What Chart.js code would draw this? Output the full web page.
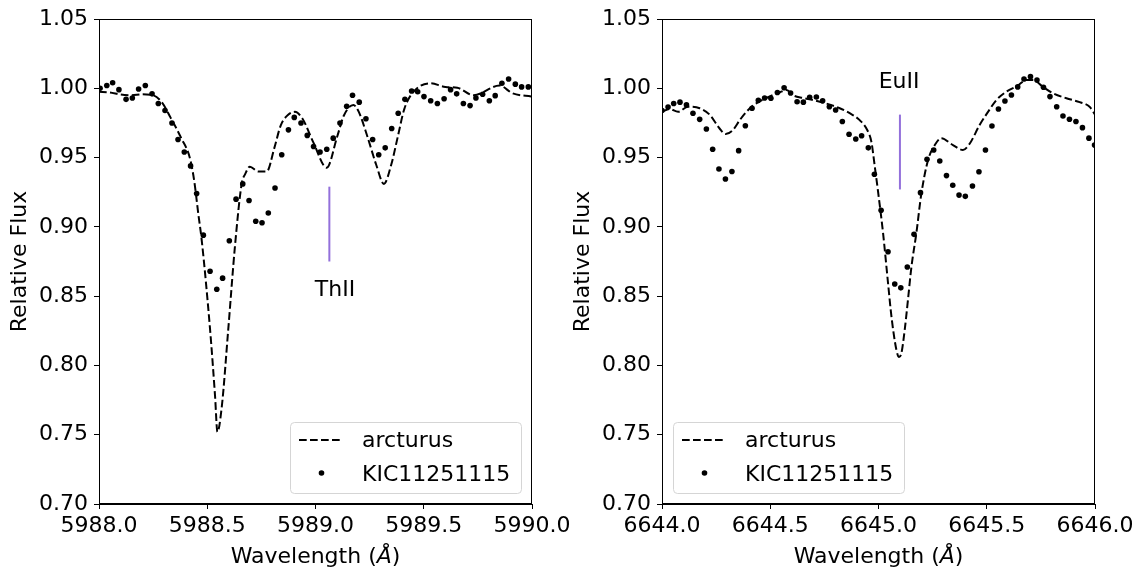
<!DOCTYPE html>
<html>
<head>
<meta charset="utf-8">
<script src="https://cdn.jsdelivr.net/npm/chart.js@4.4.1/dist/chart.umd.min.js"></script>
<style>
  body { margin: 0; background: #fff; }
  .panel { position: absolute; top: 0; width: 571px; height: 571px; }
</style>
</head>
<body>
<div class="panel" style="left:0"><canvas id="leftChart" width="571" height="571"></canvas></div>
<div class="panel" style="left:571px"><canvas id="rightChart" width="571" height="571"></canvas></div>
<script>
// tick labels
const fluxTicks = [0.70, 0.75, 0.80, 0.85, 0.90, 0.95, 1.00, 1.05];
const waveTicksL = [5988.0, 5988.5, 5989.0, 5989.5, 5990.0];
const waveTicksR = [6644.0, 6644.5, 6645.0, 6645.5, 6646.0];

// ThII region - arcturus model
const arcWaveL = [5988.00, 5988.05, 5988.10, 5988.15, 5988.20, 5988.25, 5988.29, 5988.33, 5988.38, 5988.42,
  5988.44, 5988.459, 5988.474, 5988.513, 5988.536, 5988.547, 5988.567, 5988.597, 5988.628, 5988.659,
  5988.675, 5988.697, 5988.735, 5988.775, 5988.81, 5988.84, 5988.875, 5988.905, 5988.94, 5988.99,
  5989.052, 5989.10, 5989.13, 5989.175, 5989.20, 5989.24, 5989.28, 5989.316, 5989.35, 5989.38,
  5989.41, 5989.45, 5989.53, 5989.60, 5989.655, 5989.73, 5989.85, 5989.91, 5990.00];
const arcFluxL = [0.9975, 0.997, 0.9955, 0.995, 0.9957, 0.995, 0.990, 0.979, 0.964, 0.9495,
  0.933, 0.909, 0.891, 0.826, 0.778, 0.752, 0.770, 0.826, 0.886, 0.931,
  0.938, 0.9434, 0.940, 0.940, 0.957, 0.9735, 0.981, 0.983, 0.978, 0.961,
  0.9427, 0.965, 0.980, 0.988, 0.983, 0.965, 0.945, 0.931, 0.945, 0.965,
  0.985, 0.997, 1.0036, 1.001, 1.0004, 0.995, 1.002, 0.9964, 0.994];

// ThII region - KIC11251115
const kicWaveL = [5988.005, 5988.036, 5988.063, 5988.092, 5988.125, 5988.154, 5988.183, 5988.214, 5988.245, 5988.274,
  5988.305, 5988.337, 5988.365, 5988.394, 5988.423, 5988.451, 5988.482, 5988.513, 5988.544, 5988.571,
  5988.602, 5988.633, 5988.664, 5988.693, 5988.724, 5988.753, 5988.782, 5988.813, 5988.844, 5988.875,
  5988.902, 5988.933, 5988.962, 5988.991, 5989.021, 5989.052, 5989.082, 5989.113, 5989.144, 5989.171,
  5989.202, 5989.233, 5989.264, 5989.292, 5989.322, 5989.352, 5989.382, 5989.413, 5989.444, 5989.472,
  5989.501, 5989.532, 5989.563, 5989.594, 5989.624, 5989.652, 5989.683, 5989.714, 5989.741, 5989.772,
  5989.803, 5989.830, 5989.861, 5989.892, 5989.923, 5989.952, 5989.983];
const kicFluxL = [1.000, 1.002, 1.004, 0.999, 0.992, 0.993, 0.9995, 1.002, 0.996, 0.989,
  0.984, 0.975, 0.963, 0.954, 0.944, 0.924, 0.894, 0.868, 0.855, 0.863,
  0.890, 0.920, 0.931, 0.919, 0.904, 0.903, 0.910, 0.928, 0.952, 0.970,
  0.979, 0.975, 0.966, 0.958, 0.954, 0.956, 0.964, 0.975, 0.987, 0.995,
  0.990, 0.978, 0.963, 0.952, 0.957, 0.971, 0.982, 0.992, 0.998, 0.9975,
  0.994, 0.991, 0.989, 0.9925, 0.999, 0.996, 0.989, 0.9875, 0.993, 0.9957,
  0.991, 0.9947, 1.0036, 1.0067, 1.003, 1.001, 1.001];

// EuII region - arcturus model
const arcWaveR = [6644.000, 6644.036, 6644.074, 6644.12, 6644.174, 6644.22, 6644.266, 6644.294, 6644.328, 6644.359,
  6644.39, 6644.42, 6644.482, 6644.544, 6644.575, 6644.605, 6644.651, 6644.697, 6644.759, 6644.821,
  6644.867, 6644.913, 6644.951, 6644.967, 6644.982, 6644.998, 6645.021, 6645.044, 6645.060, 6645.083,
  6645.095, 6645.106, 6645.121, 6645.136, 6645.152, 6645.175, 6645.198, 6645.229, 6645.26, 6645.29,
  6645.344, 6645.39, 6645.421, 6645.467, 6645.506, 6645.545, 6645.591, 6645.644, 6645.683, 6645.714,
  6645.76, 6645.806, 6645.868, 6645.929, 6645.975, 6646.0];
const arcFluxR = [0.983, 0.985, 0.983, 0.9867, 0.9856, 0.981, 0.971, 0.967, 0.970, 0.977,
  0.983, 0.9875, 0.993, 0.997, 0.9988, 0.995, 0.993, 0.9916, 0.989, 0.9856,
  0.982, 0.977, 0.969, 0.9615, 0.9446, 0.9254, 0.8956, 0.8595, 0.835, 0.811,
  0.806, 0.809, 0.8256, 0.8472, 0.871, 0.8956, 0.924, 0.9483, 0.959, 0.964,
  0.959, 0.9555, 0.960, 0.9735, 0.983, 0.9916, 0.9976, 1.002, 1.006, 1.006,
  1.001, 0.9964, 0.9928, 0.990, 0.9867, 0.981];

// EuII region - KIC11251115
const kicWaveR = [6644.000, 6644.028, 6644.054, 6644.083, 6644.113, 6644.143, 6644.174, 6644.205, 6644.234, 6644.263,
  6644.293, 6644.323, 6644.354, 6644.385, 6644.416, 6644.445, 6644.474, 6644.503, 6644.533, 6644.564,
  6644.594, 6644.624, 6644.653, 6644.682, 6644.713, 6644.742, 6644.773, 6644.802, 6644.833, 6644.864,
  6644.895, 6644.922, 6644.953, 6644.981, 6645.012, 6645.044, 6645.075, 6645.103, 6645.133, 6645.164,
  6645.194, 6645.224, 6645.255, 6645.283, 6645.314, 6645.343, 6645.372, 6645.401, 6645.434, 6645.464,
  6645.494, 6645.524, 6645.554, 6645.584, 6645.614, 6645.643, 6645.672, 6645.702, 6645.732, 6645.762,
  6645.792, 6645.823, 6645.852, 6645.882, 6645.912, 6645.942, 6645.972, 6645.998];
const kicFluxR = [0.984, 0.9865, 0.989, 0.990, 0.988, 0.982, 0.9776, 0.9706, 0.956, 0.9418,
  0.9345, 0.940, 0.955, 0.973, 0.9856, 0.9913, 0.993, 0.9928, 0.997, 1.0004,
  0.9966, 0.9903, 0.990, 0.9935, 0.9937, 0.991, 0.9867, 0.9843, 0.976, 0.9668,
  0.9634, 0.9658, 0.957, 0.938, 0.912, 0.882, 0.8588, 0.856, 0.871, 0.8946,
  0.9247, 0.9488, 0.9555, 0.9475, 0.937, 0.930, 0.9229, 0.922, 0.9295, 0.9398,
  0.9555, 0.9728, 0.985, 0.9908, 0.9952, 1.001, 1.0067, 1.0084, 1.006, 1.0007,
  0.994, 0.9867, 0.980, 0.9777, 0.976, 0.9716, 0.964, 0.959];

// line markers
const lineNameL = 'ThII';
const lineWaveL = 5989.064;
const lineFluxL = [0.875, 0.929];
const lineNameR = 'EuII';
const lineWaveR = 6645.099;
const lineFluxR = [0.927, 0.981];

const legendNames = ['arcturus', 'KIC11251115'];

Chart.defaults.font.family = '"DejaVu Sans"';
Chart.defaults.font.size = 22;
Chart.defaults.color = '#000';

const toPoints = (xs, ys) => xs.map((x, i) => ({ x: x, y: ys[i] }));

// box around plot, x title with italic Å, legend and line label
const framePlugin = {
    id: 'frame',
    afterDraw(chart, args, opts) {
        const { ctx, chartArea: a, scales } = chart;
        ctx.save();
        ctx.strokeStyle = '#000';
        ctx.lineWidth = 1;
        ctx.strokeRect(Math.round(a.left) + 0.5, Math.round(a.top) + 0.5,
            Math.round(a.right - a.left) - 1, Math.round(a.bottom - a.top) - 1);

        // x axis title: "Wavelength (" + italic Å + ")"
        const reg = '22px "DejaVu Sans"', ital = 'italic 22px "DejaVu Sans"';
        const parts = [['Wavelength (', reg], ['Å', ital], [')', reg]];
        let total = 0;
        parts.forEach(p => { ctx.font = p[1]; total += ctx.measureText(p[0]).width; });
        let tx = (a.left + a.right) / 2 - total / 2;
        ctx.fillStyle = '#000';
        ctx.textAlign = 'left';
        ctx.textBaseline = 'alphabetic';
        parts.forEach(p => {
            ctx.font = p[1];
            ctx.fillText(p[0], tx, 563);
            tx += ctx.measureText(p[0]).width;
        });

        // line label
        ctx.font = reg;
        ctx.textAlign = 'center';
        ctx.fillText(opts.label, scales.x.getPixelForValue(opts.labelAt[0]), scales.y.getPixelForValue(opts.labelAt[1]));

        // legend box
        const w = 231, h = 71;
        const bx = opts.legendLeft ? a.left + 11 : a.right - 11 - w;
        const by = a.bottom - 11 - h;
        ctx.beginPath();
        ctx.roundRect(bx + 0.5, by + 0.5, w, h, 4);
        ctx.fillStyle = 'rgba(255,255,255,0.8)';
        ctx.fill();
        ctx.strokeStyle = '#d5d5d5';
        ctx.stroke();

        ctx.strokeStyle = '#000';
        ctx.lineWidth = 2;
        ctx.setLineDash([7.7, 3.3]);
        ctx.beginPath();
        ctx.moveTo(bx + 9, by + 18);
        ctx.lineTo(bx + 53, by + 18);
        ctx.stroke();
        ctx.setLineDash([]);

        ctx.fillStyle = '#000';
        ctx.beginPath();
        ctx.arc(bx + 31.5, by + 51, 2.8, 0, Math.PI * 2);
        ctx.fill();

        ctx.textAlign = 'left';
        ctx.fillText(legendNames[0], bx + 72, by + 25);
        ctx.fillText(legendNames[1], bx + 72, by + 58.5);
        ctx.restore();
    }
};

function makeChart(id, cfg) {
    return new Chart(document.getElementById(id), {
        type: 'scatter',
        data: {
            datasets: [
                {
                    data: toPoints([cfg.lineWave, cfg.lineWave], cfg.lineFlux),
                    showLine: true,
                    borderColor: '#9370DB',
                    borderWidth: 2,
                    pointRadius: 0
                },
                {
                    label: legendNames[1],
                    data: toPoints(cfg.kicWave, cfg.kicFlux),
                    pointRadius: 2.8,
                    pointBackgroundColor: '#000',
                    pointBorderWidth: 0
                },
                {
                    label: legendNames[0],
                    data: toPoints(cfg.arcWave, cfg.arcFlux),
                    showLine: true,
                    borderColor: '#000',
                    borderWidth: 2,
                    borderDash: [7.7, 3.3],
                    cubicInterpolationMode: 'monotone',
                    pointRadius: 0
                }
            ]
        },
        options: {
            responsive: false,
            animation: false,
            events: [],
            layout: { padding: { top: 19, right: cfg.padRight, bottom: 0, left: 0 } },
            plugins: {
                legend: { display: false },
                tooltip: { enabled: false },
                frame: { label: cfg.lineName, labelAt: cfg.labelAt, legendLeft: cfg.legendLeft }
            },
            scales: {
                x: {
                    type: 'linear',
                    min: cfg.xTicks[0],
                    max: cfg.xTicks[cfg.xTicks.length - 1],
                    afterBuildTicks: s => { s.ticks = cfg.xTicks.map(v => ({ value: v })); },
                    afterFit: s => { s.height = 67; s.paddingLeft = 0; s.paddingRight = 0; },
                    grid: { drawOnChartArea: false, color: '#000', tickColor: '#000', tickLength: 5 },
                    border: { color: '#000', width: 1 },
                    ticks: {
                        padding: 4,
                        maxRotation: 0,
                        autoSkip: false,
                        callback: v => v.toFixed(1)
                    },
                    title: { display: false }
                },
                y: {
                    min: 0.70,
                    max: 1.05,
                    afterBuildTicks: s => { s.ticks = fluxTicks.map(v => ({ value: v })); },
                    afterFit: s => { s.width = cfg.yWidth; s.paddingTop = 0; s.paddingBottom = 0; },
                    grid: { drawOnChartArea: false, color: '#000', tickColor: '#000', tickLength: 5 },
                    border: { color: '#000', width: 1 },
                    ticks: {
                        padding: 6,
                        autoSkip: false,
                        callback: v => v.toFixed(2)
                    },
                    title: {
                        display: true,
                        text: 'Relative Flux',
                        font: { size: 22, lineHeight: 1 },
                        padding: { top: cfg.titlePad, bottom: 0 }
                    }
                }
            }
        },
        plugins: [framePlugin]
    });
}

makeChart('leftChart', {
    arcWave: arcWaveL, arcFlux: arcFluxL, kicWave: kicWaveL, kicFlux: kicFluxL,
    lineWave: lineWaveL, lineFlux: lineFluxL, lineName: lineNameL, labelAt: [5989.09, 0.850],
    xTicks: waveTicksL, yWidth: 99, padRight: 39, titlePad: 9, legendLeft: false
});

makeChart('rightChart', {
    arcWave: arcWaveR, arcFlux: arcFluxR, kicWave: kicWaveR, kicFlux: kicFluxR,
    lineWave: lineWaveR, lineFlux: lineFluxR, lineName: lineNameR, labelAt: [6645.095, 1.0004],
    xTicks: waveTicksR, yWidth: 91, padRight: 47, titlePad: 1, legendLeft: true
});
</script>
</body>
</html>
